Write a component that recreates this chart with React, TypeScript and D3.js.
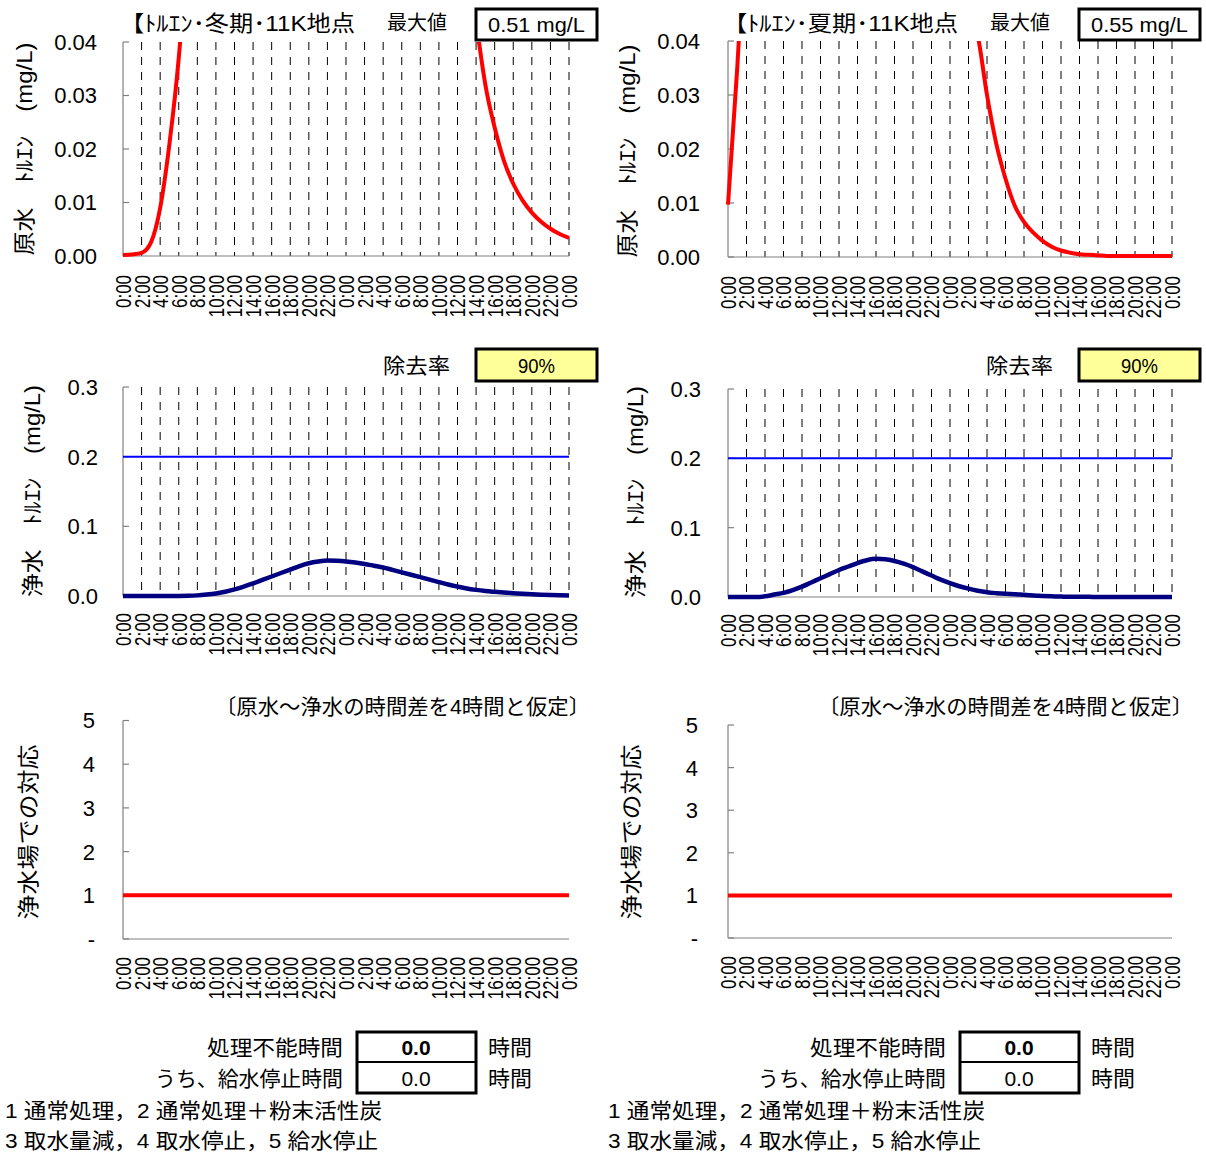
import React from "react";
import * as d3 from "d3";

// ---- data ----
const HOURS = d3.range(0, 49);
const TICK_LABELS = [
  "0:00", "2:00", "4:00", "6:00", "8:00", "10:00", "12:00", "14:00", "16:00", "18:00", "20:00", "22:00",
  "0:00", "2:00", "4:00", "6:00", "8:00", "10:00", "12:00", "14:00", "16:00", "18:00", "20:00", "22:00", "0:00",
];
const TICK_HOURS = d3.range(0, 49, 2);

const RAW_WINTER = [
  0.0002, 0.0003, 0.0006, 0.0025, 0.009, 0.021, 0.037, 0.06, 0.09, 0.13,
  0.18, 0.23, 0.28, 0.33, 0.38, 0.43, 0.47, 0.495, 0.51, 0.505,
  0.495, 0.48, 0.46, 0.435, 0.41, 0.375, 0.34, 0.305, 0.27, 0.235,
  0.2, 0.17, 0.145, 0.125, 0.107, 0.09, 0.073, 0.058, 0.044, 0.032,
  0.024, 0.0178, 0.0135, 0.0104, 0.0081, 0.0064, 0.0051, 0.0041, 0.0034,
];
const RAW_SUMMER = [
  0.0097, 0.035, 0.065, 0.1, 0.15, 0.21, 0.27, 0.33, 0.39, 0.44,
  0.49, 0.53, 0.55, 0.545, 0.52, 0.48, 0.43, 0.37, 0.31, 0.25,
  0.2, 0.155, 0.12, 0.09, 0.068, 0.055, 0.046, 0.041, 0.03, 0.021,
  0.0145, 0.0095, 0.0065, 0.0045, 0.003, 0.0019, 0.0012, 0.0008, 0.0005, 0.0004,
  0.0003, 0.0002, 0.0002, 0.0002, 0.0002, 0.0002, 0.0002, 0.0002, 0.0002,
];
const TREATED_WINTER = [
  0, 0, 0, 0, 0.00002, 0.00003, 0.00006, 0.00025, 0.0009, 0.0021,
  0.0037, 0.006, 0.0095, 0.0135, 0.018, 0.023, 0.028, 0.033, 0.038, 0.043,
  0.047, 0.0495, 0.051, 0.0505, 0.0495, 0.048, 0.046, 0.0435, 0.041, 0.0375,
  0.034, 0.0305, 0.027, 0.0235, 0.02, 0.0165, 0.0135, 0.0108, 0.0088, 0.0072,
  0.006, 0.0049, 0.004, 0.0031, 0.0024, 0.0018, 0.0013, 0.001, 0.0008,
];
const TREATED_SUMMER = [
  0, 0, 0, 0, 0.001, 0.0035, 0.006, 0.01, 0.015, 0.021,
  0.027, 0.033, 0.039, 0.044, 0.049, 0.053, 0.055, 0.0545, 0.052, 0.048,
  0.043, 0.037, 0.031, 0.025, 0.02, 0.0155, 0.012, 0.009, 0.0068, 0.0055,
  0.0046, 0.0041, 0.0031, 0.0022, 0.0015, 0.001, 0.0006, 0.0004, 0.0003, 0.0002,
  0.0001, 0.0001, 0.0001, 0.0001, 0.0001, 0.0001, 0.0001, 0.0001, 0.0001,
];
const ACTION_WINTER = HOURS.map(() => 1);
const ACTION_SUMMER = HOURS.map(() => 1);
const STANDARD = 0.2;

const RAW_TICKS = [0, 0.01, 0.02, 0.03, 0.04];
const TREATED_TICKS = [0, 0.1, 0.2, 0.3];
const ACTION_TICKS = [0, 1, 2, 3, 4, 5];

const FONT = "'Liberation Sans', Arial, 'Noto Sans CJK JP', sans-serif";

function T(props: any) {
  const { len, size = 21, children, ...rest } = props;
  return (
    <text dy="0.36em" fontSize={size} fontFamily={FONT}
      {...(len ? { textLength: len, lengthAdjust: "spacingAndGlyphs" } : {})} {...rest}>{children}</text>
  );
}

type PanelProps = {
  id: string;
  x0: number; x1: number; yTop: number; yBot: number;
  domain: [number, number];
  ticks: number[];
  tickFmt: (v: number) => string;
  labelX: number;
  series: number[];
  color: string;
  width: number;
  grid: boolean;
  hline?: number;
  labelsTop: number;
};

function Panel(p: PanelProps) {
  const x = d3.scaleLinear().domain([0, 48]).range([p.x0, p.x1]);
  const y = d3.scaleLinear().domain(p.domain).range([p.yBot, p.yTop]);
  const line = d3.line<number>().x((_, i) => x(HOURS[i])).y((d) => y(d)).curve(d3.curveMonotoneX);
  return (
    <g>
      <defs>
        <clipPath id={p.id}>
          <rect x={p.x0 - 2} y={p.yTop} width={p.x1 - p.x0 + 4} height={p.yBot - p.yTop + 4} />
        </clipPath>
      </defs>
      {p.grid && TICK_HOURS.slice(1).map((h) => (
        <line key={h} x1={x(h)} x2={x(h)} y1={p.yTop} y2={p.yBot} stroke="#000" strokeWidth={1} strokeDasharray="8,7" />
      ))}
      <line x1={p.x0} x2={p.x1} y1={p.yBot} y2={p.yBot} stroke="#808080" strokeWidth={1.2} />
      <line x1={p.x0} x2={p.x0} y1={p.yTop} y2={p.yBot} stroke="#808080" strokeWidth={1.2} />
      {p.ticks.map((t) => (
        <g key={t}>
          <line x1={p.x0} x2={p.x0 + 6} y1={y(t)} y2={y(t)} stroke="#808080" strokeWidth={1.2} />
          <T x={p.labelX} y={y(t)} textAnchor="end" size={22}>{p.tickFmt(t)}</T>
        </g>
      ))}
      {p.hline !== undefined && (
        <line x1={p.x0} x2={p.x1} y1={y(p.hline)} y2={y(p.hline)} stroke="#0000ff" strokeWidth={2} />
      )}
      <path d={line(p.series) || ""} fill="none" stroke={p.color} strokeWidth={p.width} clipPath={`url(#${p.id})`} strokeLinejoin="round" />
      {TICK_HOURS.map((h, i) => {
        const lab = TICK_LABELS[i];
        const len = (lab.length - 1) * 9.3 + 5;
        return (
          <T key={i} transform={`translate(${x(h)},${p.labelsTop}) rotate(-90)`} textAnchor="end" size={22} len={len}>{lab}</T>
        );
      })}
    </g>
  );
}

function VTitle({ x, y, text, len }: { x: number; y: number; text: string; len: number }) {
  return (
    <T transform={`translate(${x},${y}) rotate(-90)`} textAnchor="middle" size={22} len={len}>{text}</T>
  );
}

function Box({ x, y, w, h, text, fill, len }: { x: number; y: number; w: number; h: number; text: string; fill: string; len?: number }) {
  return (
    <g>
      <rect x={x} y={y} width={w} height={h} fill={fill} stroke="#000" strokeWidth={3} />
      <T x={x + w / 2} y={y + h / 2} textAnchor="middle" size={21} len={len}>{text}</T>
    </g>
  );
}

function Column({ off, season, rawMax, raw, treated, action, ids, geo }: any) {
  const fmt2 = (v: number) => v.toFixed(2);
  const fmt1 = (v: number) => v.toFixed(1);
  const fmtA = (v: number) => (v === 0 ? "-" : String(v));
  return (
    <g>
      <T x={off + 120} y={23} size={22} len={235}>{`【ﾄﾙｴﾝ･${season}･11K地点`}</T>
      <T x={off + 387} y={23} size={20} len={60}>最大値</T>
      <Box x={off + 476} y={9} w={121} h={31} text={rawMax} fill="#fff" len={97} />
      <VTitle x={off + 24} y={geo.topC} len={213} text="原水　ﾄﾙｴﾝ　(mg/L)" />
      <Panel id={ids[0]} x0={geo.x0} x1={geo.x1} yTop={geo.t[0]} yBot={geo.t[1]} domain={[0, 0.04]} ticks={RAW_TICKS} tickFmt={fmt2}
        labelX={off + 97} series={raw} color="#ff0000" width={4} grid labelsTop={geo.t[1] + 19} />

      <T x={off + 383} y={365} size={21} len={67}>除去率</T>
      <Box x={off + 476} y={349} w={121} h={32} text="90%" fill="#ffff99" len={37} />
      <VTitle x={off + 32} y={geo.midC} len={212} text="浄水　ﾄﾙｴﾝ　(mg/L)" />
      <Panel id={ids[1]} x0={geo.x0} x1={geo.x1} yTop={geo.m[0]} yBot={geo.m[1]} domain={[0, 0.3]} ticks={TREATED_TICKS} tickFmt={fmt1}
        labelX={off + 98} series={treated} color="#000080" width={4.5} grid hline={STANDARD} labelsTop={geo.m[1] + 17} />

      <T x={off + 215} y={706} size={21} len={375}>〔原水～浄水の時間差を4時間と仮定〕</T>
      <VTitle x={off + 28} y={832} len={175} text="浄水場での対応" />
      <Panel id={ids[2]} x0={geo.x0} x1={geo.x1} yTop={geo.b[0]} yBot={geo.b[1]} domain={[0, 5]} ticks={ACTION_TICKS} tickFmt={fmtA}
        labelX={off + 95} series={action} color="#ff0000" width={4} grid={false} labelsTop={geo.b[1] + 18} />

      <T x={off + 343} y={1047} textAnchor="end" size={21} len={136}>処理不能時間</T>
      <T x={off + 343} y={1078} textAnchor="end" size={21} len={188}>うち、給水停止時間</T>
      <rect x={off + 357} y={1032} width={119} height={61} fill="#fff" stroke="#000" strokeWidth={3} />
      <line x1={off + 357} x2={off + 476} y1={1062} y2={1062} stroke="#000" strokeWidth={2} />
      <T x={off + 416} y={1047} textAnchor="middle" size={21} fontWeight="bold">0.0</T>
      <T x={off + 416} y={1078} textAnchor="middle" size={21}>0.0</T>
      <T x={off + 488} y={1047} size={21} len={44}>時間</T>
      <T x={off + 488} y={1078} size={21} len={44}>時間</T>
      <T x={off + 5} y={1110} size={21} len={377}>1 通常処理，2 通常処理＋粉末活性炭</T>
      <T x={off + 5} y={1140} size={21} len={373}>3 取水量減，4 取水停止，5 給水停止</T>
    </g>
  );
}

export default function App() {
  const left = { x0: 123, x1: 569, t: [42, 256], m: [387, 596], b: [720.5, 939], topC: 149, midC: 491 };
  const right = { x0: 728, x1: 1172, t: [41, 257], m: [389, 597], b: [725, 938], topC: 151, midC: 492 };
  return (
    <svg width={1206} height={1153} style={{ position: "absolute", left: 0, top: 0, background: "#fff" }}>
      <rect width={1206} height={1153} fill="#fff" />
      <Column off={0} season="冬期" rawMax="0.51 mg/L" raw={RAW_WINTER} treated={TREATED_WINTER} action={ACTION_WINTER} ids={["c1", "c2", "c3"]} geo={left} />
      <Column off={603} season="夏期" rawMax="0.55 mg/L" raw={RAW_SUMMER} treated={TREATED_SUMMER} action={ACTION_SUMMER} ids={["c4", "c5", "c6"]} geo={right} />
    </svg>
  );
}
